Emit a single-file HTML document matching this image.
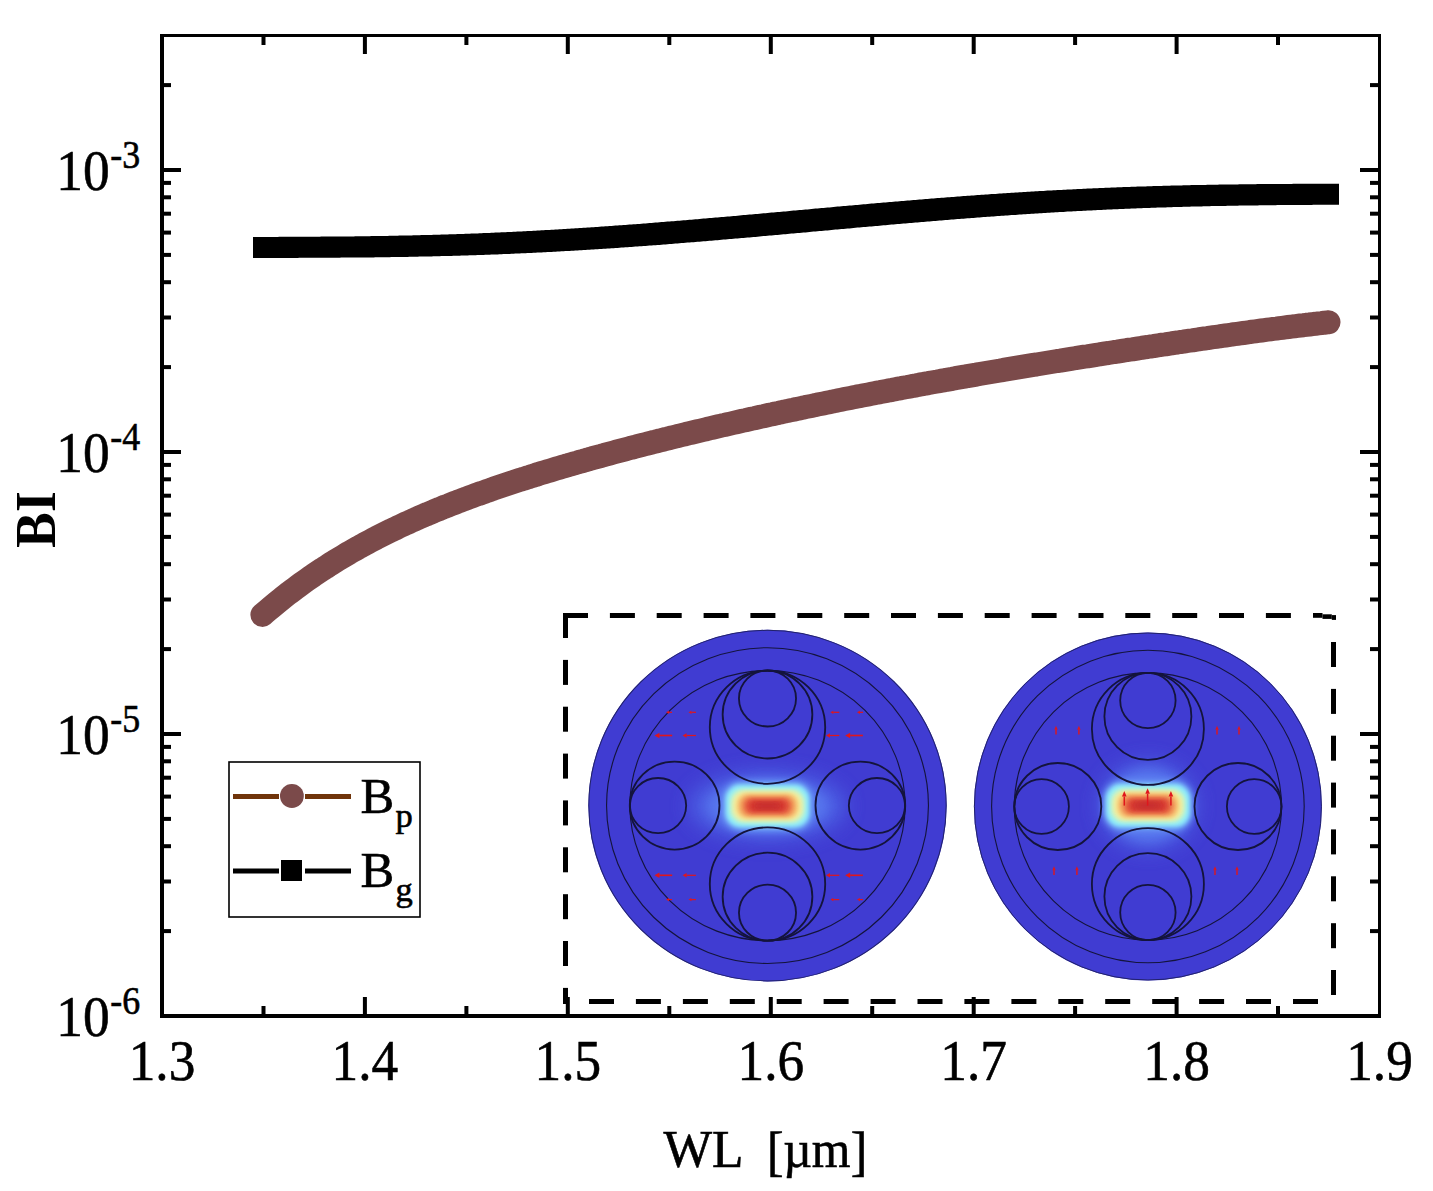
<!DOCTYPE html><html><head><meta charset="utf-8"><style>html,body{margin:0;padding:0;background:#fff;}svg{display:block;}text{font-family:"Liberation Serif",serif;}</style></head><body>
<svg width="1433" height="1191" viewBox="0 0 1433 1191">
<rect width="1433" height="1191" fill="#fff"/>
<defs>
<filter id="b2" x="-50%" y="-50%" width="200%" height="200%"><feGaussianBlur stdDeviation="2"/></filter>
<filter id="b4" x="-50%" y="-50%" width="200%" height="200%"><feGaussianBlur stdDeviation="4"/></filter>
<filter id="b8" x="-50%" y="-50%" width="200%" height="200%"><feGaussianBlur stdDeviation="8"/></filter><filter id="b10" x="-50%" y="-50%" width="200%" height="200%"><feGaussianBlur stdDeviation="10"/></filter><filter id="b6" x="-50%" y="-50%" width="200%" height="200%"><feGaussianBlur stdDeviation="6"/></filter><filter id="b3" x="-50%" y="-50%" width="200%" height="200%"><feGaussianBlur stdDeviation="3"/></filter>
<pattern id="dith" width="6" height="6" patternUnits="userSpaceOnUse"><rect width="6" height="6" fill="#3c3ac9"/><rect x="0" y="0" width="1" height="1" fill="#5050d8"/><rect x="3" y="3" width="1" height="1" fill="#5050d8"/></pattern>
</defs>
<circle cx="767.5" cy="805.6" r="175.8" transform="translate(767.5,0) scale(1.0193,1) translate(-767.5,0)" fill="#403cd2"/>
<circle cx="1147.9" cy="806.5" r="174" fill="#403cd2"/>
<ellipse cx="767.5" cy="806" rx="78" ry="34" fill="#5068e8" filter="url(#b10)" opacity="0.85"/>
<ellipse cx="767.5" cy="806" rx="60" ry="27" fill="#5a7cf0" filter="url(#b6)" opacity="0.8"/>
<rect x="722.5" y="781.0" width="90" height="50" rx="18" fill="#6a98f6" filter="url(#b3)"/>
<rect x="725.5" y="784.5" width="84" height="43" rx="15" fill="#8eecfa" filter="url(#b2)"/>
<rect x="730.0" y="789.0" width="75" height="34" rx="13" fill="#c8f4c8" filter="url(#b2)"/>
<rect x="733.0" y="791.5" width="69" height="29" rx="12" fill="#f6ec98" filter="url(#b2)"/>
<rect x="737.5" y="794.0" width="60" height="24" rx="10" fill="#f4b468" filter="url(#b2)"/>
<rect x="742.0" y="797.0" width="51" height="18" rx="8" fill="#ec7a4c" filter="url(#b2)"/>
<rect x="746.0" y="799.2" width="43" height="13.5" rx="6" fill="#de4a38" filter="url(#b2)"/>
<rect x="751.0" y="801.5" width="33" height="9" rx="4" fill="#d2342f" filter="url(#b2)"/>
<rect x="756.5" y="803.5" width="22" height="5" rx="2.5" fill="#c22a2e" filter="url(#b3)"/>
<ellipse cx="1148" cy="805.6" rx="48" ry="44" fill="#5068e8" filter="url(#b10)" opacity="0.85"/>
<ellipse cx="1148" cy="805.6" rx="40" ry="36" fill="#5a7cf0" filter="url(#b6)" opacity="0.8"/>
<rect x="1103.0" y="780.6" width="90" height="50" rx="18" fill="#6a98f6" filter="url(#b3)"/>
<rect x="1106.0" y="784.1" width="84" height="43" rx="15" fill="#8eecfa" filter="url(#b2)"/>
<rect x="1110.5" y="788.6" width="75" height="34" rx="13" fill="#c8f4c8" filter="url(#b2)"/>
<rect x="1113.5" y="791.1" width="69" height="29" rx="12" fill="#f6ec98" filter="url(#b2)"/>
<rect x="1118.0" y="793.6" width="60" height="24" rx="10" fill="#f4b468" filter="url(#b2)"/>
<rect x="1122.5" y="796.6" width="51" height="18" rx="8" fill="#ec7a4c" filter="url(#b2)"/>
<rect x="1126.5" y="798.9" width="43" height="13.5" rx="6" fill="#de4a38" filter="url(#b2)"/>
<rect x="1131.5" y="801.1" width="33" height="9" rx="4" fill="#d2342f" filter="url(#b2)"/>
<rect x="1137.0" y="803.1" width="22" height="5" rx="2.5" fill="#c22a2e" filter="url(#b3)"/>
<g transform="translate(767.5,805.6) scale(1.0193,1)" fill="none" stroke="#14143c">
<circle r="175.3" stroke-width="1" stroke="#22226a"/>
<circle r="157.9" stroke-width="1.1"/>
<circle r="135.0" stroke-width="1.1"/>
<circle cy="-78.4" r="56.6" stroke-width="1.8"/>
<circle cy="-91.1" r="44.0" stroke-width="1.8"/>
<circle cy="-107.1" r="28.0" stroke-width="1.8"/>
<circle cx="-91.1" r="44.0" stroke-width="1.8"/>
<circle cx="-107.4" r="27.6" stroke-width="1.8"/>
<circle cy="78.4" r="56.6" stroke-width="1.8"/>
<circle cy="91.1" r="44.0" stroke-width="1.8"/>
<circle cy="107.1" r="28.0" stroke-width="1.8"/>
<circle cx="91.1" r="44.0" stroke-width="1.8"/>
<circle cx="107.4" r="27.6" stroke-width="1.8"/>
</g>
<g transform="translate(1147.9,806.5) scale(1.0,1)" fill="none" stroke="#14143c">
<circle r="173.5" stroke-width="1" stroke="#22226a"/>
<circle r="156.3" stroke-width="1.1"/>
<circle r="133.6" stroke-width="1.1"/>
<circle cy="-77.6" r="56.0" stroke-width="1.8"/>
<circle cy="-90.1" r="43.5" stroke-width="1.8"/>
<circle cy="-106.0" r="27.7" stroke-width="1.8"/>
<circle cx="-90.1" r="43.5" stroke-width="1.8"/>
<circle cx="-106.3" r="27.3" stroke-width="1.8"/>
<circle cy="77.6" r="56.0" stroke-width="1.8"/>
<circle cy="90.1" r="43.5" stroke-width="1.8"/>
<circle cy="106.0" r="27.7" stroke-width="1.8"/>
<circle cx="90.1" r="43.5" stroke-width="1.8"/>
<circle cx="106.3" r="27.3" stroke-width="1.8"/>
</g>
<g><path d="M672.2,735.5 L659.5,735.5" stroke="#e0161c" stroke-width="1.6"/><path d="M654.5,735.5 L659.5,732.75 L659.5,738.25Z" fill="#e0161c"/><path d="M695.9,735.5 L686.6,735.5" stroke="#e0161c" stroke-width="1.2"/><path d="M682.6,735.5 L686.6,733.3 L686.6,737.7Z" fill="#e0161c"/><path d="M839.3,735.5 L830,735.5" stroke="#e0161c" stroke-width="1.2"/><path d="M826,735.5 L830,733.3 L830,737.7Z" fill="#e0161c"/><path d="M862.9,735.5 L850.2,735.5" stroke="#e0161c" stroke-width="1.6"/><path d="M845.2,735.5 L850.2,732.75 L850.2,738.25Z" fill="#e0161c"/><path d="M672.2,875.3 L659.5,875.3" stroke="#e0161c" stroke-width="1.6"/><path d="M654.5,875.3 L659.5,872.55 L659.5,878.05Z" fill="#e0161c"/><path d="M695.9,875.3 L686.6,875.3" stroke="#e0161c" stroke-width="1.2"/><path d="M682.6,875.3 L686.6,873.0999999999999 L686.6,877.5Z" fill="#e0161c"/><path d="M839.3,875.3 L830,875.3" stroke="#e0161c" stroke-width="1.2"/><path d="M826,875.3 L830,873.0999999999999 L830,877.5Z" fill="#e0161c"/><path d="M862.9,875.3 L850.2,875.3" stroke="#e0161c" stroke-width="1.6"/><path d="M845.2,875.3 L850.2,872.55 L850.2,878.05Z" fill="#e0161c"/><path d="M672,712.3 L669,712.3" stroke="#e0161c" stroke-width="1.2"/><path d="M666,712.3 L669,710.65 L669,713.9499999999999Z" fill="#e0161c"/><path d="M696,712.3 L691.5,712.3" stroke="#e0161c" stroke-width="1.2"/><path d="M688.5,712.3 L691.5,710.65 L691.5,713.9499999999999Z" fill="#e0161c"/><path d="M839.3,712.3 L833.4,712.3" stroke="#e0161c" stroke-width="1.2"/><path d="M830.4,712.3 L833.4,710.65 L833.4,713.9499999999999Z" fill="#e0161c"/><path d="M863,712.3 L860,712.3" stroke="#e0161c" stroke-width="1.2"/><path d="M857,712.3 L860,710.65 L860,713.9499999999999Z" fill="#e0161c"/><path d="M672,899.6 L669,899.6" stroke="#e0161c" stroke-width="1.2"/><path d="M666,899.6 L669,897.95 L669,901.25Z" fill="#e0161c"/><path d="M696,899.6 L691.5,899.6" stroke="#e0161c" stroke-width="1.2"/><path d="M688.5,899.6 L691.5,897.95 L691.5,901.25Z" fill="#e0161c"/><path d="M839.3,899.6 L833.4,899.6" stroke="#e0161c" stroke-width="1.2"/><path d="M830.4,899.6 L833.4,897.95 L833.4,901.25Z" fill="#e0161c"/><path d="M863,899.6 L860,899.6" stroke="#e0161c" stroke-width="1.2"/><path d="M857,899.6 L860,897.95 L860,901.25Z" fill="#e0161c"/><path d="M1056,734.5 L1056,729.7" stroke="#e0161c" stroke-width="1.4"/><path d="M1056,725.7 L1054.32,729.7 L1057.68,729.7Z" fill="#e0161c"/><path d="M1054,875.1 L1054,870.3" stroke="#e0161c" stroke-width="1.4"/><path d="M1054,866.3 L1052.32,870.3 L1055.68,870.3Z" fill="#e0161c"/><path d="M1078.9,734.5 L1078.9,729.7" stroke="#e0161c" stroke-width="1.4"/><path d="M1078.9,725.7 L1077.22,729.7 L1080.5800000000002,729.7Z" fill="#e0161c"/><path d="M1076.9,875.1 L1076.9,870.3" stroke="#e0161c" stroke-width="1.4"/><path d="M1076.9,866.3 L1075.22,870.3 L1078.5800000000002,870.3Z" fill="#e0161c"/><path d="M1217,734.5 L1217,729.7" stroke="#e0161c" stroke-width="1.4"/><path d="M1217,725.7 L1215.32,729.7 L1218.68,729.7Z" fill="#e0161c"/><path d="M1215,875.1 L1215,870.3" stroke="#e0161c" stroke-width="1.4"/><path d="M1215,866.3 L1213.32,870.3 L1216.68,870.3Z" fill="#e0161c"/><path d="M1239,734.5 L1239,729.7" stroke="#e0161c" stroke-width="1.4"/><path d="M1239,725.7 L1237.32,729.7 L1240.68,729.7Z" fill="#e0161c"/><path d="M1237,875.1 L1237,870.3" stroke="#e0161c" stroke-width="1.4"/><path d="M1237,866.3 L1235.32,870.3 L1238.68,870.3Z" fill="#e0161c"/><path d="M1124.3,805.6 L1124.3,796.5" stroke="#e0161c" stroke-width="1.5"/><path d="M1124.3,791 L1121.99,796.5 L1126.61,796.5Z" fill="#e0161c"/><path d="M1147.6,805.6 L1147.6,793.8" stroke="#e0161c" stroke-width="1.5"/><path d="M1147.6,788.3 L1145.29,793.8 L1149.9099999999999,793.8Z" fill="#e0161c"/><path d="M1170.9,805.6 L1170.9,796.5" stroke="#e0161c" stroke-width="1.5"/><path d="M1170.9,791 L1168.5900000000001,796.5 L1173.21,796.5Z" fill="#e0161c"/></g>
<g fill="#000"><rect x="563.0" y="613" width="25.0" height="5"/><rect x="609.9" y="613" width="25.0" height="5"/><rect x="656.7" y="613" width="25.0" height="5"/><rect x="703.6" y="613" width="25.0" height="5"/><rect x="750.4" y="613" width="25.0" height="5"/><rect x="797.3" y="613" width="25.0" height="5"/><rect x="844.2" y="613" width="25.0" height="5"/><rect x="891.0" y="613" width="25.0" height="5"/><rect x="937.9" y="613" width="25.0" height="5"/><rect x="984.7" y="613" width="25.0" height="5"/><rect x="1031.6" y="613" width="25.0" height="5"/><rect x="1078.5" y="613" width="25.0" height="5"/><rect x="1125.3" y="613" width="25.0" height="5"/><rect x="1172.2" y="613" width="25.0" height="5"/><rect x="1219.0" y="613" width="25.0" height="5"/><rect x="1265.9" y="613" width="25.0" height="5"/><rect x="1313" y="613" width="9.5" height="4.8"/><rect x="1322.5" y="614.3" width="9.3" height="4.6"/><rect x="1331.8" y="615.1" width="4.2" height="4.8"/><rect x="589.0" y="999" width="25.0" height="5"/><rect x="635.9" y="999" width="25.0" height="5"/><rect x="682.9" y="999" width="25.0" height="5"/><rect x="729.8" y="999" width="25.0" height="5"/><rect x="776.7" y="999" width="25.0" height="5"/><rect x="823.6" y="999" width="25.0" height="5"/><rect x="870.6" y="999" width="25.0" height="5"/><rect x="917.5" y="999" width="25.0" height="5"/><rect x="964.4" y="999" width="25.0" height="5"/><rect x="1011.4" y="999" width="25.0" height="5"/><rect x="1058.3" y="999" width="25.0" height="5"/><rect x="1105.2" y="999" width="25.0" height="5"/><rect x="1152.2" y="999" width="25.0" height="5"/><rect x="1199.1" y="999" width="25.0" height="5"/><rect x="1246.0" y="999" width="25.0" height="5"/><rect x="1293.0" y="999" width="25.0" height="5"/><rect x="563" y="613.0" width="5" height="25.0"/><rect x="563" y="659.9" width="5" height="25.0"/><rect x="563" y="706.7" width="5" height="25.0"/><rect x="563" y="753.6" width="5" height="25.0"/><rect x="563" y="800.4" width="5" height="25.0"/><rect x="563" y="847.3" width="5" height="25.0"/><rect x="563" y="894.2" width="5" height="25.0"/><rect x="563" y="941.0" width="5" height="25.0"/><rect x="563" y="987.9" width="5" height="16.1"/><rect x="1331" y="642.0" width="5" height="25.0"/><rect x="1331" y="688.9" width="5" height="25.0"/><rect x="1331" y="735.7" width="5" height="25.0"/><rect x="1331" y="782.6" width="5" height="25.0"/><rect x="1331" y="829.4" width="5" height="25.0"/><rect x="1331" y="876.3" width="5" height="25.0"/><rect x="1331" y="923.2" width="5" height="25.0"/><rect x="1331" y="970.0" width="5" height="25.0"/></g>
<g fill="#000"><rect x="160" y="34" width="4" height="984"/><rect x="160" y="34" width="1221" height="3"/><rect x="1378" y="34" width="3" height="984"/><rect x="160" y="1014" width="1221" height="4"/><rect x="261.5" y="1006" width="4" height="8"/><rect x="261.5" y="37" width="4" height="8"/><rect x="362.9" y="997" width="4" height="17"/><rect x="362.9" y="37" width="4" height="17"/><rect x="464.4" y="1006" width="4" height="8"/><rect x="464.4" y="37" width="4" height="8"/><rect x="565.8" y="997" width="4" height="17"/><rect x="565.8" y="37" width="4" height="17"/><rect x="667.3" y="1006" width="4" height="8"/><rect x="667.3" y="37" width="4" height="8"/><rect x="768.8" y="997" width="4" height="17"/><rect x="768.8" y="37" width="4" height="17"/><rect x="870.2" y="1006" width="4" height="8"/><rect x="870.2" y="37" width="4" height="8"/><rect x="971.7" y="997" width="4" height="17"/><rect x="971.7" y="37" width="4" height="17"/><rect x="1073.1" y="1006" width="4" height="8"/><rect x="1073.1" y="37" width="4" height="8"/><rect x="1174.6" y="997" width="4" height="17"/><rect x="1174.6" y="37" width="4" height="17"/><rect x="1276.0" y="1006" width="4" height="8"/><rect x="1276.0" y="37" width="4" height="8"/><rect x="164" y="929.1" width="7" height="4"/><rect x="1370" y="929.1" width="8" height="4"/><rect x="164" y="879.5" width="7" height="4"/><rect x="1370" y="879.5" width="8" height="4"/><rect x="164" y="844.2" width="7" height="4"/><rect x="1370" y="844.2" width="8" height="4"/><rect x="164" y="816.9" width="7" height="4"/><rect x="1370" y="816.9" width="8" height="4"/><rect x="164" y="794.6" width="7" height="4"/><rect x="1370" y="794.6" width="8" height="4"/><rect x="164" y="775.7" width="7" height="4"/><rect x="1370" y="775.7" width="8" height="4"/><rect x="164" y="759.3" width="7" height="4"/><rect x="1370" y="759.3" width="8" height="4"/><rect x="164" y="744.9" width="7" height="4"/><rect x="1370" y="744.9" width="8" height="4"/><rect x="164" y="732.0" width="17" height="4"/><rect x="1360" y="732.0" width="18" height="4"/><rect x="164" y="647.1" width="7" height="4"/><rect x="1370" y="647.1" width="8" height="4"/><rect x="164" y="597.5" width="7" height="4"/><rect x="1370" y="597.5" width="8" height="4"/><rect x="164" y="562.2" width="7" height="4"/><rect x="1370" y="562.2" width="8" height="4"/><rect x="164" y="534.9" width="7" height="4"/><rect x="1370" y="534.9" width="8" height="4"/><rect x="164" y="512.6" width="7" height="4"/><rect x="1370" y="512.6" width="8" height="4"/><rect x="164" y="493.7" width="7" height="4"/><rect x="1370" y="493.7" width="8" height="4"/><rect x="164" y="477.3" width="7" height="4"/><rect x="1370" y="477.3" width="8" height="4"/><rect x="164" y="462.9" width="7" height="4"/><rect x="1370" y="462.9" width="8" height="4"/><rect x="164" y="450.0" width="17" height="4"/><rect x="1360" y="450.0" width="18" height="4"/><rect x="164" y="365.1" width="7" height="4"/><rect x="1370" y="365.1" width="8" height="4"/><rect x="164" y="315.5" width="7" height="4"/><rect x="1370" y="315.5" width="8" height="4"/><rect x="164" y="280.2" width="7" height="4"/><rect x="1370" y="280.2" width="8" height="4"/><rect x="164" y="252.9" width="7" height="4"/><rect x="1370" y="252.9" width="8" height="4"/><rect x="164" y="230.6" width="7" height="4"/><rect x="1370" y="230.6" width="8" height="4"/><rect x="164" y="211.7" width="7" height="4"/><rect x="1370" y="211.7" width="8" height="4"/><rect x="164" y="195.3" width="7" height="4"/><rect x="1370" y="195.3" width="8" height="4"/><rect x="164" y="180.9" width="7" height="4"/><rect x="1370" y="180.9" width="8" height="4"/><rect x="164" y="168.0" width="17" height="4"/><rect x="1360" y="168.0" width="18" height="4"/><rect x="164" y="83.1" width="7" height="4"/><rect x="1370" y="83.1" width="8" height="4"/></g>
<polyline points="262.4,614.9 265.4,612.3 268.4,609.7 271.4,607.2 274.4,604.7 277.4,602.2 280.4,599.8 283.4,597.4 286.4,595.1 289.4,592.7 292.4,590.5 295.4,588.2 298.4,586.0 301.4,583.8 304.4,581.6 307.4,579.5 310.4,577.4 313.4,575.3 316.4,573.3 319.4,571.3 322.4,569.3 325.4,567.4 328.4,565.4 331.4,563.5 334.4,561.6 337.4,559.8 340.4,558.0 343.4,556.2 346.4,554.4 349.4,552.6 352.4,550.9 355.4,549.2 358.4,547.5 361.4,545.9 364.4,544.2 367.4,542.6 370.4,541.0 373.4,539.4 376.4,537.8 379.4,536.3 382.4,534.8 385.4,533.3 388.4,531.8 391.4,530.3 394.4,528.9 397.4,527.4 400.4,526.0 403.4,524.6 406.4,523.2 409.4,521.9 412.4,520.5 415.4,519.2 418.4,517.8 421.4,516.5 424.4,515.2 427.4,514.0 430.4,512.7 433.4,511.4 436.4,510.2 439.4,509.0 442.4,507.7 445.4,506.5 448.4,505.4 451.4,504.2 454.4,503.0 457.4,501.8 460.4,500.7 463.4,499.6 466.4,498.4 469.4,497.3 472.4,496.2 475.4,495.1 478.4,494.0 481.4,493.0 484.4,491.9 487.4,490.8 490.4,489.8 493.4,488.7 496.4,487.7 499.4,486.7 502.4,485.7 505.4,484.7 508.4,483.7 511.4,482.7 514.4,481.7 517.4,480.7 520.4,479.7 523.4,478.8 526.4,477.8 529.4,476.9 532.4,475.9 535.4,475.0 538.4,474.0 541.4,473.1 544.4,472.2 547.4,471.3 550.4,470.4 553.4,469.5 556.4,468.6 559.4,467.7 562.4,466.8 565.4,465.9 568.4,465.1 571.4,464.2 574.4,463.3 577.4,462.5 580.4,461.6 583.4,460.8 586.4,459.9 589.4,459.1 592.4,458.2 595.4,457.4 598.4,456.6 601.4,455.8 604.4,454.9 607.4,454.1 610.4,453.3 613.4,452.5 616.4,451.7 619.4,450.9 622.4,450.1 625.4,449.3 628.4,448.5 631.4,447.7 634.4,447.0 637.4,446.2 640.4,445.4 643.4,444.6 646.4,443.9 649.4,443.1 652.4,442.3 655.4,441.6 658.4,440.8 661.4,440.1 664.4,439.3 667.4,438.6 670.4,437.8 673.4,437.1 676.4,436.4 679.4,435.6 682.4,434.9 685.4,434.2 688.4,433.4 691.4,432.7 694.4,432.0 697.4,431.3 700.4,430.6 703.4,429.9 706.4,429.2 709.4,428.4 712.4,427.7 715.4,427.0 718.4,426.3 721.4,425.6 724.4,425.0 727.4,424.3 730.4,423.6 733.4,422.9 736.4,422.2 739.4,421.5 742.4,420.8 745.4,420.2 748.4,419.5 751.4,418.8 754.4,418.2 757.4,417.5 760.4,416.8 763.4,416.2 766.4,415.5 769.4,414.8 772.4,414.2 775.4,413.5 778.4,412.9 781.4,412.2 784.4,411.6 787.4,410.9 790.4,410.3 793.4,409.7 796.4,409.0 799.4,408.4 802.4,407.8 805.4,407.1 808.4,406.5 811.4,405.9 814.4,405.3 817.4,404.6 820.4,404.0 823.4,403.4 826.4,402.8 829.4,402.2 832.4,401.6 835.4,400.9 838.4,400.3 841.4,399.7 844.4,399.1 847.4,398.5 850.4,397.9 853.4,397.3 856.4,396.7 859.4,396.2 862.4,395.6 865.4,395.0 868.4,394.4 871.4,393.8 874.4,393.2 877.4,392.6 880.4,392.1 883.4,391.5 886.4,390.9 889.4,390.3 892.4,389.8 895.4,389.2 898.4,388.6 901.4,388.1 904.4,387.5 907.4,387.0 910.4,386.4 913.4,385.8 916.4,385.3 919.4,384.7 922.4,384.2 925.4,383.6 928.4,383.1 931.4,382.5 934.4,382.0 937.4,381.5 940.4,380.9 943.4,380.4 946.4,379.8 949.4,379.3 952.4,378.8 955.4,378.2 958.4,377.7 961.4,377.2 964.4,376.7 967.4,376.1 970.4,375.6 973.4,375.1 976.4,374.6 979.4,374.0 982.4,373.5 985.4,373.0 988.4,372.5 991.4,372.0 994.4,371.5 997.4,371.0 1000.4,370.5 1003.4,369.9 1006.4,369.4 1009.4,368.9 1012.4,368.4 1015.4,367.9 1018.4,367.4 1021.4,366.9 1024.4,366.4 1027.4,365.9 1030.4,365.4 1033.4,364.9 1036.4,364.5 1039.4,364.0 1042.4,363.5 1045.4,363.0 1048.4,362.5 1051.4,362.0 1054.4,361.5 1057.4,361.0 1060.4,360.6 1063.4,360.1 1066.4,359.6 1069.4,359.1 1072.4,358.6 1075.4,358.2 1078.4,357.7 1081.4,357.2 1084.4,356.7 1087.4,356.3 1090.4,355.8 1093.4,355.3 1096.4,354.8 1099.4,354.4 1102.4,353.9 1105.4,353.4 1108.4,353.0 1111.4,352.5 1114.4,352.0 1117.4,351.6 1120.4,351.1 1123.4,350.6 1126.4,350.2 1129.4,349.7 1132.4,349.3 1135.4,348.8 1138.4,348.3 1141.4,347.9 1144.4,347.4 1147.4,347.0 1150.4,346.5 1153.4,346.1 1156.4,345.6 1159.4,345.2 1162.4,344.7 1165.4,344.3 1168.4,343.8 1171.4,343.4 1174.4,342.9 1177.4,342.5 1180.4,342.0 1183.4,341.6 1186.4,341.1 1189.4,340.7 1192.4,340.3 1195.4,339.8 1198.4,339.4 1201.4,338.9 1204.4,338.5 1207.4,338.1 1210.4,337.6 1213.4,337.2 1216.4,336.8 1219.4,336.4 1222.4,335.9 1225.4,335.5 1228.4,335.1 1231.4,334.7 1234.4,334.2 1237.4,333.8 1240.4,333.4 1243.4,333.0 1246.4,332.6 1249.4,332.2 1252.4,331.7 1255.4,331.3 1258.4,330.9 1261.4,330.5 1264.4,330.1 1267.4,329.7 1270.4,329.3 1273.4,328.9 1276.4,328.6 1279.4,328.2 1282.4,327.8 1285.4,327.4 1288.4,327.0 1291.4,326.6 1294.4,326.3 1297.4,325.9 1300.4,325.5 1303.4,325.2 1306.4,324.8 1309.4,324.5 1312.4,324.1 1315.4,323.8 1318.4,323.4 1321.4,323.1 1324.4,322.7 1327.4,322.4 1328.5,322.3" fill="none" stroke="#7b4a4a" stroke-width="24" stroke-linecap="round" stroke-linejoin="round"/>
<polygon fill="#000" points="253.0,236.9 253.0,236.9 254.0,236.9 255.0,236.9 256.0,236.9 257.0,236.9 258.0,236.9 259.0,236.9 260.0,236.9 261.0,236.9 262.0,236.9 263.0,236.9 264.0,236.9 265.0,236.9 266.0,236.9 267.0,236.9 268.0,236.9 269.0,236.9 270.0,236.9 271.0,236.9 272.0,236.9 273.0,236.9 274.0,236.9 275.0,236.9 276.0,236.9 277.0,236.9 278.0,236.9 279.0,236.8 280.0,236.8 281.0,236.8 282.0,236.8 283.0,236.8 284.0,236.8 285.0,236.8 286.0,236.8 287.0,236.8 288.0,236.8 289.0,236.8 290.0,236.8 291.0,236.8 292.0,236.8 293.0,236.8 294.0,236.8 295.0,236.8 296.0,236.8 297.0,236.8 298.0,236.8 299.0,236.8 300.0,236.8 301.0,236.8 302.0,236.8 303.0,236.7 304.0,236.7 305.0,236.7 306.0,236.7 307.0,236.7 308.0,236.7 309.0,236.7 310.0,236.7 311.0,236.7 312.0,236.7 313.0,236.7 314.0,236.7 315.0,236.7 316.0,236.7 317.0,236.7 318.0,236.7 319.0,236.7 320.0,236.7 321.0,236.6 322.0,236.6 323.0,236.6 324.0,236.6 325.0,236.6 326.0,236.6 327.0,236.6 328.0,236.6 329.0,236.6 330.0,236.6 331.0,236.6 332.0,236.6 333.0,236.5 334.0,236.5 335.0,236.5 336.0,236.5 337.0,236.5 338.0,236.5 339.0,236.5 340.0,236.5 341.0,236.5 342.0,236.5 343.0,236.5 344.0,236.5 345.0,236.4 346.0,236.4 347.0,236.4 348.0,236.4 349.0,236.4 350.0,236.4 351.0,236.4 352.0,236.4 353.0,236.4 354.0,236.4 355.0,236.3 356.0,236.3 357.0,236.3 358.0,236.3 359.0,236.3 360.0,236.3 361.0,236.3 362.0,236.3 363.0,236.2 364.0,236.2 365.0,236.2 366.0,236.2 367.0,236.2 368.0,236.2 369.0,236.2 370.0,236.2 371.0,236.1 372.0,236.1 373.0,236.1 374.0,236.1 375.0,236.1 376.0,236.1 377.0,236.0 378.0,236.0 379.0,236.0 380.0,236.0 381.0,236.0 382.0,236.0 383.0,235.9 384.0,235.9 385.0,235.9 386.0,235.9 387.0,235.9 388.0,235.9 389.0,235.8 390.0,235.8 391.0,235.8 392.0,235.8 393.0,235.8 394.0,235.8 395.0,235.7 396.0,235.7 397.0,235.7 398.0,235.7 399.0,235.6 400.0,235.6 401.0,235.6 402.0,235.6 403.0,235.6 404.0,235.6 405.0,235.5 406.0,235.5 407.0,235.5 408.0,235.5 409.0,235.4 410.0,235.4 411.0,235.4 412.0,235.4 413.0,235.3 414.0,235.3 415.0,235.3 416.0,235.3 417.0,235.2 418.0,235.2 419.0,235.2 420.0,235.2 421.0,235.1 422.0,235.1 423.0,235.1 424.0,235.1 425.0,235.0 426.0,235.0 427.0,235.0 428.0,235.0 429.0,234.9 430.0,234.9 431.0,234.9 432.0,234.9 433.0,234.8 434.0,234.8 435.0,234.8 436.0,234.8 437.0,234.7 438.0,234.7 439.0,234.7 440.0,234.7 441.0,234.6 442.0,234.6 443.0,234.5 444.0,234.5 445.0,234.5 446.0,234.5 447.0,234.4 448.0,234.4 449.0,234.3 450.0,234.3 451.0,234.3 452.0,234.3 453.0,234.2 454.0,234.2 455.0,234.2 456.0,234.2 457.0,234.1 458.0,234.1 459.0,234.0 460.0,234.0 461.0,233.9 462.0,233.9 463.0,233.9 464.0,233.9 465.0,233.8 466.0,233.8 467.0,233.7 468.0,233.7 469.0,233.7 470.0,233.7 471.0,233.6 472.0,233.6 473.0,233.5 474.0,233.5 475.0,233.4 476.0,233.4 477.0,233.4 478.0,233.4 479.0,233.3 480.0,233.3 481.0,233.2 482.0,233.2 483.0,233.1 484.0,233.1 485.0,233.0 486.0,233.0 487.0,233.0 488.0,233.0 489.0,232.9 490.0,232.9 491.0,232.8 492.0,232.8 493.0,232.7 494.0,232.7 495.0,232.6 496.0,232.6 497.0,232.5 498.0,232.5 499.0,232.4 500.0,232.4 501.0,232.3 502.0,232.3 503.0,232.3 504.0,232.3 505.0,232.2 506.0,232.2 507.0,232.1 508.0,232.1 509.0,232.0 510.0,232.0 511.0,231.9 512.0,231.9 513.0,231.8 514.0,231.8 515.0,231.7 516.0,231.7 517.0,231.6 518.0,231.6 519.0,231.5 520.0,231.5 521.0,231.4 522.0,231.4 523.0,231.3 524.0,231.3 525.0,231.2 526.0,231.2 527.0,231.1 528.0,231.1 529.0,231.0 530.0,231.0 531.0,230.9 532.0,230.9 533.0,230.8 534.0,230.8 535.0,230.7 536.0,230.7 537.0,230.6 538.0,230.6 539.0,230.5 540.0,230.5 541.0,230.3 542.0,230.3 543.0,230.2 544.0,230.2 545.0,230.1 546.0,230.1 547.0,230.0 548.0,230.0 549.0,229.9 550.0,229.9 551.0,229.8 552.0,229.8 553.0,229.7 554.0,229.7 555.0,229.5 556.0,229.5 557.0,229.4 558.0,229.4 559.0,229.3 560.0,229.3 561.0,229.2 562.0,229.2 563.0,229.1 564.0,229.1 565.0,229.0 566.0,229.0 567.0,228.8 568.0,228.8 569.0,228.7 570.0,228.7 571.0,228.6 572.0,228.6 573.0,228.5 574.0,228.5 575.0,228.3 576.0,228.3 577.0,228.2 578.0,228.2 579.0,228.1 580.0,228.1 581.0,227.9 582.0,227.9 583.0,227.8 584.0,227.8 585.0,227.7 586.0,227.7 587.0,227.6 588.0,227.6 589.0,227.4 590.0,227.4 591.0,227.3 592.0,227.3 593.0,227.2 594.0,227.2 595.0,227.0 596.0,227.0 597.0,226.9 598.0,226.9 599.0,226.8 600.0,226.8 601.0,226.6 602.0,226.6 603.0,226.5 604.0,226.5 605.0,226.3 606.0,226.3 607.0,226.2 608.0,226.2 609.0,226.1 610.0,226.1 611.0,225.9 612.0,225.9 613.0,225.8 614.0,225.8 615.0,225.6 616.0,225.6 617.0,225.5 618.0,225.5 619.0,225.3 620.0,225.3 621.0,225.2 622.0,225.2 623.0,225.0 624.0,225.0 625.0,224.9 626.0,224.9 627.0,224.8 628.0,224.8 629.0,224.6 630.0,224.6 631.0,224.5 632.0,224.5 633.0,224.3 634.0,224.3 635.0,224.2 636.0,224.2 637.0,224.0 638.0,224.0 639.0,223.9 640.0,223.9 641.0,223.7 642.0,223.7 643.0,223.5 644.0,223.5 645.0,223.4 646.0,223.4 647.0,223.2 648.0,223.2 649.0,223.1 650.0,223.1 651.0,222.9 652.0,222.9 653.0,222.8 654.0,222.8 655.0,222.6 656.0,222.6 657.0,222.5 658.0,222.5 659.0,222.3 660.0,222.3 661.0,222.1 662.0,222.1 663.0,222.0 664.0,222.0 665.0,221.8 666.0,221.8 667.0,221.6 668.0,221.6 669.0,221.5 670.0,221.5 671.0,221.3 672.0,221.3 673.0,221.2 674.0,221.2 675.0,221.0 676.0,221.0 677.0,220.8 678.0,220.8 679.0,220.7 680.0,220.7 681.0,220.5 682.0,220.5 683.0,220.3 684.0,220.3 685.0,220.2 686.0,220.2 687.0,220.0 688.0,220.0 689.0,219.8 690.0,219.8 691.0,219.7 692.0,219.7 693.0,219.5 694.0,219.5 695.0,219.3 696.0,219.3 697.0,219.2 698.0,219.2 699.0,219.0 700.0,219.0 701.0,218.8 702.0,218.8 703.0,218.6 704.0,218.6 705.0,218.5 706.0,218.5 707.0,218.3 708.0,218.3 709.0,218.1 710.0,218.1 711.0,218.0 712.0,218.0 713.0,217.8 714.0,217.8 715.0,217.6 716.0,217.6 717.0,217.4 718.0,217.4 719.0,217.3 720.0,217.3 721.0,217.1 722.0,217.1 723.0,216.9 724.0,216.9 725.0,216.7 726.0,216.7 727.0,216.6 728.0,216.6 729.0,216.4 730.0,216.4 731.0,216.2 732.0,216.2 733.0,216.0 734.0,216.0 735.0,215.9 736.0,215.9 737.0,215.7 738.0,215.7 739.0,215.5 740.0,215.5 741.0,215.3 742.0,215.3 743.0,215.1 744.0,215.1 745.0,215.0 746.0,215.0 747.0,214.8 748.0,214.8 749.0,214.6 750.0,214.6 751.0,214.4 752.0,214.4 753.0,214.2 754.0,214.2 755.0,214.1 756.0,214.1 757.0,213.9 758.0,213.9 759.0,213.7 760.0,213.7 761.0,213.5 762.0,213.5 763.0,213.3 764.0,213.3 765.0,213.2 766.0,213.2 767.0,213.0 768.0,213.0 769.0,212.8 770.0,212.8 771.0,212.6 772.0,212.6 773.0,212.4 774.0,212.4 775.0,212.3 776.0,212.3 777.0,212.1 778.0,212.1 779.0,211.9 780.0,211.9 781.0,211.7 782.0,211.7 783.0,211.5 784.0,211.5 785.0,211.4 786.0,211.4 787.0,211.2 788.0,211.2 789.0,211.0 790.0,211.0 791.0,210.8 792.0,210.8 793.0,210.6 794.0,210.6 795.0,210.4 796.0,210.4 797.0,210.3 798.0,210.3 799.0,210.1 800.0,210.1 801.0,209.9 802.0,209.9 803.0,209.7 804.0,209.7 805.0,209.5 806.0,209.5 807.0,209.4 808.0,209.4 809.0,209.2 810.0,209.2 811.0,209.0 812.0,209.0 813.0,208.8 814.0,208.8 815.0,208.6 816.0,208.6 817.0,208.4 818.0,208.4 819.0,208.3 820.0,208.3 821.0,208.1 822.0,208.1 823.0,207.9 824.0,207.9 825.0,207.7 826.0,207.7 827.0,207.5 828.0,207.5 829.0,207.4 830.0,207.4 831.0,207.2 832.0,207.2 833.0,207.0 834.0,207.0 835.0,206.8 836.0,206.8 837.0,206.6 838.0,206.6 839.0,206.5 840.0,206.5 841.0,206.3 842.0,206.3 843.0,206.1 844.0,206.1 845.0,205.9 846.0,205.9 847.0,205.7 848.0,205.7 849.0,205.6 850.0,205.6 851.0,205.4 852.0,205.4 853.0,205.2 854.0,205.2 855.0,205.0 856.0,205.0 857.0,204.9 858.0,204.9 859.0,204.7 860.0,204.7 861.0,204.5 862.0,204.5 863.0,204.3 864.0,204.3 865.0,204.2 866.0,204.2 867.0,204.0 868.0,204.0 869.0,203.8 870.0,203.8 871.0,203.6 872.0,203.6 873.0,203.5 874.0,203.5 875.0,203.3 876.0,203.3 877.0,203.1 878.0,203.1 879.0,202.9 880.0,202.9 881.0,202.8 882.0,202.8 883.0,202.6 884.0,202.6 885.0,202.4 886.0,202.4 887.0,202.2 888.0,202.2 889.0,202.1 890.0,202.1 891.0,201.9 892.0,201.9 893.0,201.7 894.0,201.7 895.0,201.6 896.0,201.6 897.0,201.4 898.0,201.4 899.0,201.2 900.0,201.2 901.0,201.1 902.0,201.1 903.0,200.9 904.0,200.9 905.0,200.7 906.0,200.7 907.0,200.6 908.0,200.6 909.0,200.4 910.0,200.4 911.0,200.2 912.0,200.2 913.0,200.1 914.0,200.1 915.0,199.9 916.0,199.9 917.0,199.7 918.0,199.7 919.0,199.6 920.0,199.6 921.0,199.4 922.0,199.4 923.0,199.2 924.0,199.2 925.0,199.1 926.0,199.1 927.0,198.9 928.0,198.9 929.0,198.8 930.0,198.8 931.0,198.6 932.0,198.6 933.0,198.4 934.0,198.4 935.0,198.3 936.0,198.3 937.0,198.1 938.0,198.1 939.0,198.0 940.0,198.0 941.0,197.8 942.0,197.8 943.0,197.7 944.0,197.7 945.0,197.5 946.0,197.5 947.0,197.3 948.0,197.3 949.0,197.2 950.0,197.2 951.0,197.0 952.0,197.0 953.0,196.9 954.0,196.9 955.0,196.7 956.0,196.7 957.0,196.6 958.0,196.6 959.0,196.4 960.0,196.4 961.0,196.3 962.0,196.3 963.0,196.1 964.0,196.1 965.0,196.0 966.0,196.0 967.0,195.8 968.0,195.8 969.0,195.7 970.0,195.7 971.0,195.5 972.0,195.5 973.0,195.4 974.0,195.4 975.0,195.3 976.0,195.3 977.0,195.1 978.0,195.1 979.0,195.0 980.0,195.0 981.0,194.8 982.0,194.8 983.0,194.7 984.0,194.7 985.0,194.5 986.0,194.5 987.0,194.4 988.0,194.4 989.0,194.3 990.0,194.3 991.0,194.1 992.0,194.1 993.0,194.0 994.0,194.0 995.0,193.9 996.0,193.9 997.0,193.7 998.0,193.7 999.0,193.6 1000.0,193.6 1001.0,193.5 1002.0,193.5 1003.0,193.3 1004.0,193.3 1005.0,193.2 1006.0,193.2 1007.0,193.1 1008.0,193.1 1009.0,192.9 1010.0,192.9 1011.0,192.8 1012.0,192.8 1013.0,192.7 1014.0,192.7 1015.0,192.5 1016.0,192.5 1017.0,192.4 1018.0,192.4 1019.0,192.3 1020.0,192.3 1021.0,192.2 1022.0,192.2 1023.0,192.1 1024.0,192.1 1025.0,191.9 1026.0,191.9 1027.0,191.8 1028.0,191.8 1029.0,191.7 1030.0,191.7 1031.0,191.6 1032.0,191.6 1033.0,191.4 1034.0,191.4 1035.0,191.3 1036.0,191.3 1037.0,191.2 1038.0,191.2 1039.0,191.1 1040.0,191.1 1041.0,191.0 1042.0,191.0 1043.0,190.9 1044.0,190.9 1045.0,190.8 1046.0,190.8 1047.0,190.6 1048.0,190.6 1049.0,190.5 1050.0,190.5 1051.0,190.4 1052.0,190.4 1053.0,190.3 1054.0,190.3 1055.0,190.2 1056.0,190.2 1057.0,190.1 1058.0,190.1 1059.0,190.0 1060.0,190.0 1061.0,189.9 1062.0,189.9 1063.0,189.8 1064.0,189.8 1065.0,189.7 1066.0,189.7 1067.0,189.6 1068.0,189.6 1069.0,189.5 1070.0,189.5 1071.0,189.4 1072.0,189.4 1073.0,189.3 1074.0,189.3 1075.0,189.2 1076.0,189.2 1077.0,189.1 1078.0,189.1 1079.0,189.0 1080.0,189.0 1081.0,188.9 1082.0,188.9 1083.0,188.8 1084.0,188.8 1085.0,188.7 1086.0,188.7 1087.0,188.6 1088.0,188.6 1089.0,188.5 1090.0,188.5 1091.0,188.4 1092.0,188.4 1093.0,188.3 1094.0,188.3 1095.0,188.2 1096.0,188.2 1097.0,188.2 1098.0,188.2 1099.0,188.1 1100.0,188.1 1101.0,188.0 1102.0,188.0 1103.0,187.9 1104.0,187.9 1105.0,187.8 1106.0,187.8 1107.0,187.7 1108.0,187.7 1109.0,187.7 1110.0,187.7 1111.0,187.6 1112.0,187.6 1113.0,187.5 1114.0,187.5 1115.0,187.4 1116.0,187.4 1117.0,187.3 1118.0,187.3 1119.0,187.3 1120.0,187.3 1121.0,187.2 1122.0,187.2 1123.0,187.1 1124.0,187.1 1125.0,187.0 1126.0,187.0 1127.0,187.0 1128.0,187.0 1129.0,186.9 1130.0,186.9 1131.0,186.8 1132.0,186.8 1133.0,186.8 1134.0,186.8 1135.0,186.7 1136.0,186.7 1137.0,186.6 1138.0,186.6 1139.0,186.6 1140.0,186.6 1141.0,186.5 1142.0,186.5 1143.0,186.4 1144.0,186.4 1145.0,186.4 1146.0,186.4 1147.0,186.3 1148.0,186.3 1149.0,186.2 1150.0,186.2 1151.0,186.2 1152.0,186.2 1153.0,186.1 1154.0,186.1 1155.0,186.1 1156.0,186.1 1157.0,186.0 1158.0,186.0 1159.0,185.9 1160.0,185.9 1161.0,185.9 1162.0,185.9 1163.0,185.8 1164.0,185.8 1165.0,185.8 1166.0,185.8 1167.0,185.7 1168.0,185.7 1169.0,185.7 1170.0,185.7 1171.0,185.6 1172.0,185.6 1173.0,185.6 1174.0,185.6 1175.0,185.5 1176.0,185.5 1177.0,185.5 1178.0,185.5 1179.0,185.4 1180.0,185.4 1181.0,185.4 1182.0,185.4 1183.0,185.3 1184.0,185.3 1185.0,185.3 1186.0,185.3 1187.0,185.2 1188.0,185.2 1189.0,185.2 1190.0,185.2 1191.0,185.1 1192.0,185.1 1193.0,185.1 1194.0,185.1 1195.0,185.1 1196.0,185.1 1197.0,185.0 1198.0,185.0 1199.0,185.0 1200.0,185.0 1201.0,184.9 1202.0,184.9 1203.0,184.9 1204.0,184.9 1205.0,184.9 1206.0,184.9 1207.0,184.8 1208.0,184.8 1209.0,184.8 1210.0,184.8 1211.0,184.8 1212.0,184.8 1213.0,184.7 1214.0,184.7 1215.0,184.7 1216.0,184.7 1217.0,184.7 1218.0,184.7 1219.0,184.6 1220.0,184.6 1221.0,184.6 1222.0,184.6 1223.0,184.6 1224.0,184.6 1225.0,184.5 1226.0,184.5 1227.0,184.5 1228.0,184.5 1229.0,184.5 1230.0,184.5 1231.0,184.4 1232.0,184.4 1233.0,184.4 1234.0,184.4 1235.0,184.4 1236.0,184.4 1237.0,184.4 1238.0,184.4 1239.0,184.3 1240.0,184.3 1241.0,184.3 1242.0,184.3 1243.0,184.3 1244.0,184.3 1245.0,184.3 1246.0,184.3 1247.0,184.2 1248.0,184.2 1249.0,184.2 1250.0,184.2 1251.0,184.2 1252.0,184.2 1253.0,184.2 1254.0,184.2 1255.0,184.2 1256.0,184.2 1257.0,184.1 1258.0,184.1 1259.0,184.1 1260.0,184.1 1261.0,184.1 1262.0,184.1 1263.0,184.1 1264.0,184.1 1265.0,184.1 1266.0,184.1 1267.0,184.0 1268.0,184.0 1269.0,184.0 1270.0,184.0 1271.0,184.0 1272.0,184.0 1273.0,184.0 1274.0,184.0 1275.0,184.0 1276.0,184.0 1277.0,184.0 1278.0,184.0 1279.0,183.9 1280.0,183.9 1281.0,183.9 1282.0,183.9 1283.0,183.9 1284.0,183.9 1285.0,183.9 1286.0,183.9 1287.0,183.9 1288.0,183.9 1289.0,183.9 1290.0,183.9 1291.0,183.9 1292.0,183.9 1293.0,183.8 1294.0,183.8 1295.0,183.8 1296.0,183.8 1297.0,183.8 1298.0,183.8 1299.0,183.8 1300.0,183.8 1301.0,183.8 1302.0,183.8 1303.0,183.8 1304.0,183.8 1305.0,183.8 1306.0,183.8 1307.0,183.8 1308.0,183.8 1309.0,183.7 1310.0,183.7 1311.0,183.7 1312.0,183.7 1313.0,183.7 1314.0,183.7 1315.0,183.7 1316.0,183.7 1317.0,183.7 1318.0,183.7 1319.0,183.7 1320.0,183.7 1321.0,183.7 1322.0,183.7 1323.0,183.7 1324.0,183.7 1325.0,183.7 1326.0,183.7 1327.0,183.7 1328.0,183.7 1329.0,183.7 1330.0,183.7 1331.0,183.7 1332.0,183.7 1333.0,183.7 1334.0,183.7 1335.0,183.7 1336.0,183.7 1337.0,183.7 1338.0,183.7 1339.0,183.7 1339.0,204.7 1338.0,204.7 1337.0,204.7 1336.0,204.7 1335.0,204.7 1334.0,204.7 1333.0,204.7 1332.0,204.7 1331.0,204.7 1330.0,204.7 1329.0,204.7 1328.0,204.8 1327.0,204.8 1326.0,204.8 1325.0,204.8 1324.0,204.8 1323.0,204.8 1322.0,204.8 1321.0,204.8 1320.0,204.8 1319.0,204.8 1318.0,204.8 1317.0,204.8 1316.0,204.8 1315.0,204.8 1314.0,204.8 1313.0,204.8 1312.0,204.9 1311.0,204.9 1310.0,204.9 1309.0,204.9 1308.0,204.9 1307.0,204.9 1306.0,204.9 1305.0,204.9 1304.0,204.9 1303.0,204.9 1302.0,204.9 1301.0,204.9 1300.0,204.9 1299.0,204.9 1298.0,205.0 1297.0,205.0 1296.0,205.0 1295.0,205.0 1294.0,205.0 1293.0,205.0 1292.0,205.0 1291.0,205.0 1290.0,205.0 1289.0,205.0 1288.0,205.0 1287.0,205.0 1286.0,205.1 1285.0,205.1 1284.0,205.1 1283.0,205.1 1282.0,205.1 1281.0,205.1 1280.0,205.1 1279.0,205.1 1278.0,205.1 1277.0,205.1 1276.0,205.2 1275.0,205.2 1274.0,205.2 1273.0,205.2 1272.0,205.2 1271.0,205.2 1270.0,205.2 1269.0,205.2 1268.0,205.2 1267.0,205.2 1266.0,205.3 1265.0,205.3 1264.0,205.3 1263.0,205.3 1262.0,205.3 1261.0,205.3 1260.0,205.3 1259.0,205.3 1258.0,205.4 1257.0,205.4 1256.0,205.4 1255.0,205.4 1254.0,205.4 1253.0,205.4 1252.0,205.4 1251.0,205.4 1250.0,205.5 1249.0,205.5 1248.0,205.5 1247.0,205.5 1246.0,205.5 1245.0,205.5 1244.0,205.6 1243.0,205.6 1242.0,205.6 1241.0,205.6 1240.0,205.6 1239.0,205.6 1238.0,205.7 1237.0,205.7 1236.0,205.7 1235.0,205.7 1234.0,205.7 1233.0,205.7 1232.0,205.8 1231.0,205.8 1230.0,205.8 1229.0,205.8 1228.0,205.8 1227.0,205.8 1226.0,205.9 1225.0,205.9 1224.0,205.9 1223.0,205.9 1222.0,205.9 1221.0,205.9 1220.0,206.0 1219.0,206.0 1218.0,206.0 1217.0,206.0 1216.0,206.1 1215.0,206.1 1214.0,206.1 1213.0,206.1 1212.0,206.1 1211.0,206.1 1210.0,206.2 1209.0,206.2 1208.0,206.2 1207.0,206.2 1206.0,206.3 1205.0,206.3 1204.0,206.3 1203.0,206.3 1202.0,206.4 1201.0,206.4 1200.0,206.4 1199.0,206.4 1198.0,206.5 1197.0,206.5 1196.0,206.5 1195.0,206.5 1194.0,206.6 1193.0,206.6 1192.0,206.6 1191.0,206.6 1190.0,206.7 1189.0,206.7 1188.0,206.7 1187.0,206.7 1186.0,206.8 1185.0,206.8 1184.0,206.8 1183.0,206.8 1182.0,206.9 1181.0,206.9 1180.0,206.9 1179.0,206.9 1178.0,207.0 1177.0,207.0 1176.0,207.1 1175.0,207.1 1174.0,207.1 1173.0,207.1 1172.0,207.2 1171.0,207.2 1170.0,207.2 1169.0,207.2 1168.0,207.3 1167.0,207.3 1166.0,207.4 1165.0,207.4 1164.0,207.4 1163.0,207.4 1162.0,207.5 1161.0,207.5 1160.0,207.6 1159.0,207.6 1158.0,207.6 1157.0,207.6 1156.0,207.7 1155.0,207.7 1154.0,207.8 1153.0,207.8 1152.0,207.8 1151.0,207.8 1150.0,207.9 1149.0,207.9 1148.0,208.0 1147.0,208.0 1146.0,208.0 1145.0,208.0 1144.0,208.1 1143.0,208.1 1142.0,208.2 1141.0,208.2 1140.0,208.3 1139.0,208.3 1138.0,208.3 1137.0,208.3 1136.0,208.4 1135.0,208.4 1134.0,208.5 1133.0,208.5 1132.0,208.6 1131.0,208.6 1130.0,208.7 1129.0,208.7 1128.0,208.7 1127.0,208.7 1126.0,208.8 1125.0,208.8 1124.0,208.9 1123.0,208.9 1122.0,209.0 1121.0,209.0 1120.0,209.1 1119.0,209.1 1118.0,209.2 1117.0,209.2 1116.0,209.2 1115.0,209.2 1114.0,209.3 1113.0,209.3 1112.0,209.4 1111.0,209.4 1110.0,209.5 1109.0,209.5 1108.0,209.6 1107.0,209.6 1106.0,209.7 1105.0,209.7 1104.0,209.8 1103.0,209.8 1102.0,209.9 1101.0,209.9 1100.0,210.0 1099.0,210.0 1098.0,210.1 1097.0,210.1 1096.0,210.2 1095.0,210.2 1094.0,210.3 1093.0,210.3 1092.0,210.4 1091.0,210.4 1090.0,210.5 1089.0,210.5 1088.0,210.6 1087.0,210.6 1086.0,210.7 1085.0,210.7 1084.0,210.8 1083.0,210.8 1082.0,210.9 1081.0,210.9 1080.0,211.0 1079.0,211.0 1078.0,211.1 1077.0,211.1 1076.0,211.2 1075.0,211.2 1074.0,211.3 1073.0,211.3 1072.0,211.4 1071.0,211.4 1070.0,211.5 1069.0,211.5 1068.0,211.6 1067.0,211.6 1066.0,211.8 1065.0,211.8 1064.0,211.9 1063.0,211.9 1062.0,212.0 1061.0,212.0 1060.0,212.1 1059.0,212.1 1058.0,212.2 1057.0,212.2 1056.0,212.3 1055.0,212.3 1054.0,212.4 1053.0,212.4 1052.0,212.6 1051.0,212.6 1050.0,212.7 1049.0,212.7 1048.0,212.8 1047.0,212.8 1046.0,212.9 1045.0,212.9 1044.0,213.1 1043.0,213.1 1042.0,213.2 1041.0,213.2 1040.0,213.3 1039.0,213.3 1038.0,213.4 1037.0,213.4 1036.0,213.5 1035.0,213.5 1034.0,213.7 1033.0,213.7 1032.0,213.8 1031.0,213.8 1030.0,213.9 1029.0,213.9 1028.0,214.1 1027.0,214.1 1026.0,214.2 1025.0,214.2 1024.0,214.3 1023.0,214.3 1022.0,214.5 1021.0,214.5 1020.0,214.6 1019.0,214.6 1018.0,214.7 1017.0,214.7 1016.0,214.9 1015.0,214.9 1014.0,215.0 1013.0,215.0 1012.0,215.1 1011.0,215.1 1010.0,215.3 1009.0,215.3 1008.0,215.4 1007.0,215.4 1006.0,215.5 1005.0,215.5 1004.0,215.7 1003.0,215.7 1002.0,215.8 1001.0,215.8 1000.0,216.0 999.0,216.0 998.0,216.1 997.0,216.1 996.0,216.3 995.0,216.3 994.0,216.4 993.0,216.4 992.0,216.5 991.0,216.5 990.0,216.7 989.0,216.7 988.0,216.8 987.0,216.8 986.0,217.0 985.0,217.0 984.0,217.1 983.0,217.1 982.0,217.3 981.0,217.3 980.0,217.4 979.0,217.4 978.0,217.6 977.0,217.6 976.0,217.7 975.0,217.7 974.0,217.9 973.0,217.9 972.0,218.0 971.0,218.0 970.0,218.2 969.0,218.2 968.0,218.3 967.0,218.3 966.0,218.5 965.0,218.5 964.0,218.7 963.0,218.7 962.0,218.8 961.0,218.8 960.0,219.0 959.0,219.0 958.0,219.1 957.0,219.1 956.0,219.3 955.0,219.3 954.0,219.4 953.0,219.4 952.0,219.6 951.0,219.6 950.0,219.8 949.0,219.8 948.0,219.9 947.0,219.9 946.0,220.1 945.0,220.1 944.0,220.2 943.0,220.2 942.0,220.4 941.0,220.4 940.0,220.6 939.0,220.6 938.0,220.7 937.0,220.7 936.0,220.9 935.0,220.9 934.0,221.1 933.0,221.1 932.0,221.2 931.0,221.2 930.0,221.4 929.0,221.4 928.0,221.6 927.0,221.6 926.0,221.7 925.0,221.7 924.0,221.9 923.0,221.9 922.0,222.1 921.0,222.1 920.0,222.2 919.0,222.2 918.0,222.4 917.0,222.4 916.0,222.6 915.0,222.6 914.0,222.7 913.0,222.7 912.0,222.9 911.0,222.9 910.0,223.1 909.0,223.1 908.0,223.2 907.0,223.2 906.0,223.4 905.0,223.4 904.0,223.6 903.0,223.6 902.0,223.8 901.0,223.8 900.0,223.9 899.0,223.9 898.0,224.1 897.0,224.1 896.0,224.3 895.0,224.3 894.0,224.5 893.0,224.5 892.0,224.6 891.0,224.6 890.0,224.8 889.0,224.8 888.0,225.0 887.0,225.0 886.0,225.2 885.0,225.2 884.0,225.3 883.0,225.3 882.0,225.5 881.0,225.5 880.0,225.7 879.0,225.7 878.0,225.9 877.0,225.9 876.0,226.0 875.0,226.0 874.0,226.2 873.0,226.2 872.0,226.4 871.0,226.4 870.0,226.6 869.0,226.6 868.0,226.7 867.0,226.7 866.0,226.9 865.0,226.9 864.0,227.1 863.0,227.1 862.0,227.3 861.0,227.3 860.0,227.5 859.0,227.5 858.0,227.6 857.0,227.6 856.0,227.8 855.0,227.8 854.0,228.0 853.0,228.0 852.0,228.2 851.0,228.2 850.0,228.4 849.0,228.4 848.0,228.5 847.0,228.5 846.0,228.7 845.0,228.7 844.0,228.9 843.0,228.9 842.0,229.1 841.0,229.1 840.0,229.3 839.0,229.3 838.0,229.4 837.0,229.4 836.0,229.6 835.0,229.6 834.0,229.8 833.0,229.8 832.0,230.0 831.0,230.0 830.0,230.2 829.0,230.2 828.0,230.4 827.0,230.4 826.0,230.5 825.0,230.5 824.0,230.7 823.0,230.7 822.0,230.9 821.0,230.9 820.0,231.1 819.0,231.1 818.0,231.3 817.0,231.3 816.0,231.4 815.0,231.4 814.0,231.6 813.0,231.6 812.0,231.8 811.0,231.8 810.0,232.0 809.0,232.0 808.0,232.2 807.0,232.2 806.0,232.4 805.0,232.4 804.0,232.5 803.0,232.5 802.0,232.7 801.0,232.7 800.0,232.9 799.0,232.9 798.0,233.1 797.0,233.1 796.0,233.3 795.0,233.3 794.0,233.4 793.0,233.4 792.0,233.6 791.0,233.6 790.0,233.8 789.0,233.8 788.0,234.0 787.0,234.0 786.0,234.2 785.0,234.2 784.0,234.3 783.0,234.3 782.0,234.5 781.0,234.5 780.0,234.7 779.0,234.7 778.0,234.9 777.0,234.9 776.0,235.1 775.0,235.1 774.0,235.2 773.0,235.2 772.0,235.4 771.0,235.4 770.0,235.6 769.0,235.6 768.0,235.8 767.0,235.8 766.0,236.0 765.0,236.0 764.0,236.1 763.0,236.1 762.0,236.3 761.0,236.3 760.0,236.5 759.0,236.5 758.0,236.7 757.0,236.7 756.0,236.9 755.0,236.9 754.0,237.0 753.0,237.0 752.0,237.2 751.0,237.2 750.0,237.4 749.0,237.4 748.0,237.6 747.0,237.6 746.0,237.7 745.0,237.7 744.0,237.9 743.0,237.9 742.0,238.1 741.0,238.1 740.0,238.3 739.0,238.3 738.0,238.4 737.0,238.4 736.0,238.6 735.0,238.6 734.0,238.8 733.0,238.8 732.0,239.0 731.0,239.0 730.0,239.1 729.0,239.1 728.0,239.3 727.0,239.3 726.0,239.5 725.0,239.5 724.0,239.6 723.0,239.6 722.0,239.8 721.0,239.8 720.0,240.0 719.0,240.0 718.0,240.2 717.0,240.2 716.0,240.3 715.0,240.3 714.0,240.5 713.0,240.5 712.0,240.7 711.0,240.7 710.0,240.8 709.0,240.8 708.0,241.0 707.0,241.0 706.0,241.2 705.0,241.2 704.0,241.3 703.0,241.3 702.0,241.5 701.0,241.5 700.0,241.7 699.0,241.7 698.0,241.8 697.0,241.8 696.0,242.0 695.0,242.0 694.0,242.2 693.0,242.2 692.0,242.3 691.0,242.3 690.0,242.5 689.0,242.5 688.0,242.6 687.0,242.6 686.0,242.8 685.0,242.8 684.0,243.0 683.0,243.0 682.0,243.1 681.0,243.1 680.0,243.3 679.0,243.3 678.0,243.5 677.0,243.5 676.0,243.6 675.0,243.6 674.0,243.8 673.0,243.8 672.0,243.9 671.0,243.9 670.0,244.1 669.0,244.1 668.0,244.2 667.0,244.2 666.0,244.4 665.0,244.4 664.0,244.5 663.0,244.5 662.0,244.7 661.0,244.7 660.0,244.9 659.0,244.9 658.0,245.0 657.0,245.0 656.0,245.2 655.0,245.2 654.0,245.3 653.0,245.3 652.0,245.5 651.0,245.5 650.0,245.6 649.0,245.6 648.0,245.8 647.0,245.8 646.0,245.9 645.0,245.9 644.0,246.0 643.0,246.0 642.0,246.2 641.0,246.2 640.0,246.3 639.0,246.3 638.0,246.5 637.0,246.5 636.0,246.6 635.0,246.6 634.0,246.8 633.0,246.8 632.0,246.9 631.0,246.9 630.0,247.1 629.0,247.1 628.0,247.2 627.0,247.2 626.0,247.3 625.0,247.3 624.0,247.5 623.0,247.5 622.0,247.6 621.0,247.6 620.0,247.8 619.0,247.8 618.0,247.9 617.0,247.9 616.0,248.0 615.0,248.0 614.0,248.2 613.0,248.2 612.0,248.3 611.0,248.3 610.0,248.4 609.0,248.4 608.0,248.6 607.0,248.6 606.0,248.7 605.0,248.7 604.0,248.8 603.0,248.8 602.0,248.9 601.0,248.9 600.0,249.1 599.0,249.1 598.0,249.2 597.0,249.2 596.0,249.3 595.0,249.3 594.0,249.5 593.0,249.5 592.0,249.6 591.0,249.6 590.0,249.7 589.0,249.7 588.0,249.8 587.0,249.8 586.0,250.0 585.0,250.0 584.0,250.1 583.0,250.1 582.0,250.2 581.0,250.2 580.0,250.3 579.0,250.3 578.0,250.4 577.0,250.4 576.0,250.5 575.0,250.5 574.0,250.7 573.0,250.7 572.0,250.8 571.0,250.8 570.0,250.9 569.0,250.9 568.0,251.0 567.0,251.0 566.0,251.1 565.0,251.1 564.0,251.2 563.0,251.2 562.0,251.3 561.0,251.3 560.0,251.5 559.0,251.5 558.0,251.6 557.0,251.6 556.0,251.7 555.0,251.7 554.0,251.8 553.0,251.8 552.0,251.9 551.0,251.9 550.0,252.0 549.0,252.0 548.0,252.1 547.0,252.1 546.0,252.2 545.0,252.2 544.0,252.3 543.0,252.3 542.0,252.4 541.0,252.4 540.0,252.5 539.0,252.5 538.0,252.6 537.0,252.6 536.0,252.7 535.0,252.7 534.0,252.8 533.0,252.8 532.0,252.9 531.0,252.9 530.0,253.0 529.0,253.0 528.0,253.1 527.0,253.1 526.0,253.2 525.0,253.2 524.0,253.3 523.0,253.3 522.0,253.3 521.0,253.3 520.0,253.4 519.0,253.4 518.0,253.5 517.0,253.5 516.0,253.6 515.0,253.6 514.0,253.7 513.0,253.7 512.0,253.8 511.0,253.8 510.0,253.9 509.0,253.9 508.0,254.0 507.0,254.0 506.0,254.0 505.0,254.0 504.0,254.1 503.0,254.1 502.0,254.2 501.0,254.2 500.0,254.3 499.0,254.3 498.0,254.4 497.0,254.4 496.0,254.4 495.0,254.4 494.0,254.5 493.0,254.5 492.0,254.6 491.0,254.6 490.0,254.7 489.0,254.7 488.0,254.7 487.0,254.7 486.0,254.8 485.0,254.8 484.0,254.9 483.0,254.9 482.0,254.9 481.0,254.9 480.0,255.0 479.0,255.0 478.0,255.1 477.0,255.1 476.0,255.2 475.0,255.2 474.0,255.2 473.0,255.2 472.0,255.3 471.0,255.3 470.0,255.3 469.0,255.3 468.0,255.4 467.0,255.4 466.0,255.5 465.0,255.5 464.0,255.5 463.0,255.5 462.0,255.6 461.0,255.6 460.0,255.7 459.0,255.7 458.0,255.7 457.0,255.7 456.0,255.8 455.0,255.8 454.0,255.8 453.0,255.8 452.0,255.9 451.0,255.9 450.0,255.9 449.0,255.9 448.0,256.0 447.0,256.0 446.0,256.0 445.0,256.0 444.0,256.1 443.0,256.1 442.0,256.1 441.0,256.1 440.0,256.2 439.0,256.2 438.0,256.2 437.0,256.2 436.0,256.3 435.0,256.3 434.0,256.3 433.0,256.3 432.0,256.4 431.0,256.4 430.0,256.4 429.0,256.4 428.0,256.5 427.0,256.5 426.0,256.5 425.0,256.5 424.0,256.6 423.0,256.6 422.0,256.6 421.0,256.6 420.0,256.6 419.0,256.6 418.0,256.7 417.0,256.7 416.0,256.7 415.0,256.7 414.0,256.8 413.0,256.8 412.0,256.8 411.0,256.8 410.0,256.8 409.0,256.8 408.0,256.9 407.0,256.9 406.0,256.9 405.0,256.9 404.0,256.9 403.0,256.9 402.0,257.0 401.0,257.0 400.0,257.0 399.0,257.0 398.0,257.0 397.0,257.0 396.0,257.1 395.0,257.1 394.0,257.1 393.0,257.1 392.0,257.1 391.0,257.1 390.0,257.2 389.0,257.2 388.0,257.2 387.0,257.2 386.0,257.2 385.0,257.2 384.0,257.2 383.0,257.2 382.0,257.3 381.0,257.3 380.0,257.3 379.0,257.3 378.0,257.3 377.0,257.3 376.0,257.3 375.0,257.3 374.0,257.4 373.0,257.4 372.0,257.4 371.0,257.4 370.0,257.4 369.0,257.4 368.0,257.4 367.0,257.4 366.0,257.4 365.0,257.4 364.0,257.5 363.0,257.5 362.0,257.5 361.0,257.5 360.0,257.5 359.0,257.5 358.0,257.5 357.0,257.5 356.0,257.5 355.0,257.5 354.0,257.5 353.0,257.5 352.0,257.6 351.0,257.6 350.0,257.6 349.0,257.6 348.0,257.6 347.0,257.6 346.0,257.6 345.0,257.6 344.0,257.6 343.0,257.6 342.0,257.6 341.0,257.6 340.0,257.7 339.0,257.7 338.0,257.7 337.0,257.7 336.0,257.7 335.0,257.7 334.0,257.7 333.0,257.7 332.0,257.7 331.0,257.7 330.0,257.7 329.0,257.7 328.0,257.7 327.0,257.7 326.0,257.7 325.0,257.7 324.0,257.7 323.0,257.7 322.0,257.8 321.0,257.8 320.0,257.8 319.0,257.8 318.0,257.8 317.0,257.8 316.0,257.8 315.0,257.8 314.0,257.8 313.0,257.8 312.0,257.8 311.0,257.8 310.0,257.8 309.0,257.8 308.0,257.8 307.0,257.8 306.0,257.8 305.0,257.8 304.0,257.8 303.0,257.8 302.0,257.8 301.0,257.8 300.0,257.8 299.0,257.8 298.0,257.9 297.0,257.9 296.0,257.9 295.0,257.9 294.0,257.9 293.0,257.9 292.0,257.9 291.0,257.9 290.0,257.9 289.0,257.9 288.0,257.9 287.0,257.9 286.0,257.9 285.0,257.9 284.0,257.9 283.0,257.9 282.0,257.9 281.0,257.9 280.0,257.9 279.0,257.9 278.0,257.9 277.0,257.9 276.0,257.9 275.0,257.9 274.0,257.9 273.0,257.9 272.0,257.9 271.0,257.9 270.0,257.9 269.0,257.9 268.0,257.9 267.0,257.9 266.0,257.9 265.0,257.9 264.0,257.9 263.0,257.9 262.0,257.9 261.0,257.9 260.0,257.9 259.0,257.9 258.0,257.9 257.0,257.9 256.0,257.9 255.0,257.9 254.0,257.9 253.0,257.9"/>
<rect x="229" y="762" width="191" height="155" fill="#fff" stroke="#000" stroke-width="1.6"/>
<rect x="233" y="794" width="46" height="5" fill="#70340a"/><rect x="305" y="794" width="46" height="5" fill="#70340a"/>
<circle cx="291.9" cy="796" r="11.9" fill="#7b4a4a"/>
<rect x="233" y="868.5" width="46" height="5" fill="#000"/><rect x="305" y="868.5" width="46" height="5" fill="#000"/>
<rect x="281" y="860" width="21" height="21" fill="#000"/>
<g fill="#000"><text transform="translate(162.0,1080.0) scale(0.92,1.0)" font-size="58" text-anchor="middle" font-weight="normal" stroke="#000" stroke-width="0.6">1.3</text><text transform="translate(364.9,1080.0) scale(0.92,1.0)" font-size="58" text-anchor="middle" font-weight="normal" stroke="#000" stroke-width="0.6">1.4</text><text transform="translate(567.8,1080.0) scale(0.92,1.0)" font-size="58" text-anchor="middle" font-weight="normal" stroke="#000" stroke-width="0.6">1.5</text><text transform="translate(770.8,1080.0) scale(0.92,1.0)" font-size="58" text-anchor="middle" font-weight="normal" stroke="#000" stroke-width="0.6">1.6</text><text transform="translate(973.7,1080.0) scale(0.92,1.0)" font-size="58" text-anchor="middle" font-weight="normal" stroke="#000" stroke-width="0.6">1.7</text><text transform="translate(1176.6,1080.0) scale(0.92,1.0)" font-size="58" text-anchor="middle" font-weight="normal" stroke="#000" stroke-width="0.6">1.8</text><text transform="translate(1379.5,1080.0) scale(0.92,1.0)" font-size="58" text-anchor="middle" font-weight="normal" stroke="#000" stroke-width="0.6">1.9</text><text transform="translate(56.2,190.0) scale(0.92,1.0)" font-size="58" text-anchor="start" font-weight="normal" stroke="#000" stroke-width="0.6">10</text><text transform="translate(110.3,167.6) scale(0.92,1.0)" font-size="39" text-anchor="start" font-weight="normal" stroke="#000" stroke-width="0.6">-3</text><text transform="translate(56.2,472.0) scale(0.92,1.0)" font-size="58" text-anchor="start" font-weight="normal" stroke="#000" stroke-width="0.6">10</text><text transform="translate(110.3,449.6) scale(0.92,1.0)" font-size="39" text-anchor="start" font-weight="normal" stroke="#000" stroke-width="0.6">-4</text><text transform="translate(56.2,754.0) scale(0.92,1.0)" font-size="58" text-anchor="start" font-weight="normal" stroke="#000" stroke-width="0.6">10</text><text transform="translate(110.3,731.6) scale(0.92,1.0)" font-size="39" text-anchor="start" font-weight="normal" stroke="#000" stroke-width="0.6">-5</text><text transform="translate(56.2,1036.0) scale(0.92,1.0)" font-size="58" text-anchor="start" font-weight="normal" stroke="#000" stroke-width="0.6">10</text><text transform="translate(110.3,1013.6) scale(0.92,1.0)" font-size="39" text-anchor="start" font-weight="normal" stroke="#000" stroke-width="0.6">-6</text><text transform="translate(55.0,547.9) rotate(-90) scale(0.95,1.0)" font-size="56.6" text-anchor="start" font-weight="bold">BI</text><text transform="translate(663.4,1167.0) scale(0.99,1.0)" font-size="52" text-anchor="start" font-weight="normal" stroke="#000" stroke-width="0.6">WL</text><text transform="translate(783.2,1167.0) scale(0.956,1.0)" font-size="52" text-anchor="start" font-weight="normal" stroke="#000" stroke-width="0.6">µm</text><text transform="translate(766.9,1169.7) scale(0.956,1.05)" font-size="52" text-anchor="start" font-weight="normal" stroke="#000" stroke-width="0.6">[</text><text transform="translate(850.7,1169.7) scale(0.956,1.05)" font-size="52" text-anchor="start" font-weight="normal" stroke="#000" stroke-width="0.6">]</text><text transform="translate(360.6,813.3)" font-size="50.6" text-anchor="start" font-weight="normal" stroke="#000" stroke-width="0.6">B</text><text transform="translate(395.4,827.3)" font-size="34.5" text-anchor="start" font-weight="normal" stroke="#000" stroke-width="0.6">p</text><text transform="translate(360.6,887.4)" font-size="50.6" text-anchor="start" font-weight="normal" stroke="#000" stroke-width="0.6">B</text><text transform="translate(395.4,901.3)" font-size="34.5" text-anchor="start" font-weight="normal" stroke="#000" stroke-width="0.6">g</text></g>
</svg></body></html>
